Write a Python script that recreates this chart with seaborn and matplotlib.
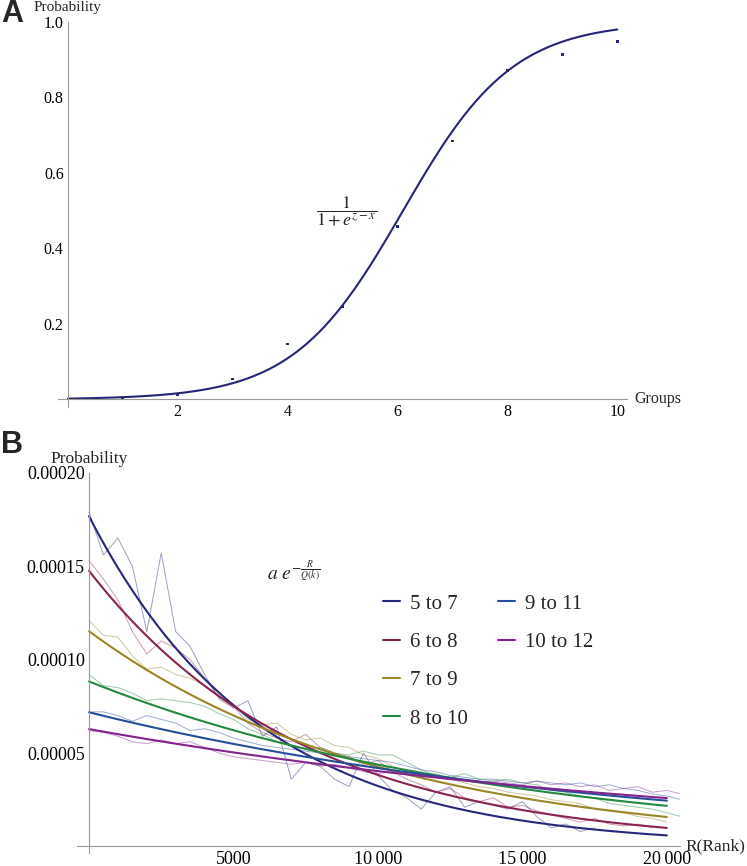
import numpy as np
import pandas as pd
import matplotlib
matplotlib.use('Agg')
import matplotlib.pyplot as plt
from matplotlib.ticker import MultipleLocator, FixedLocator, FixedFormatter
from matplotlib.lines import Line2D
import seaborn as sns

# ---- Painel A: pontos observados e parametro da logistica ajustada ----
grupos = [1, 2, 3, 4, 5, 6, 7, 8, 9, 10]
prob_grupos = [0.003, 0.013, 0.054, 0.147, 0.246, 0.459, 0.685, 0.872, 0.914, 0.949]
z_logistica = 6.1

# ---- Painel B: faixas, parametros dos ajustes a*exp(-R/Q) ----
faixas = ['5 to 7', '6 to 8', '7 to 9', '8 to 10', '9 to 11', '10 to 12']
cores = ['#27277c', '#8a2352', '#9a8624', '#24883e', '#244e98', '#83248c']
amplitude = [17.67e-5, 14.75e-5, 11.52e-5, 8.83e-5, 7.18e-5, 6.28e-5]
escala_q = [5890, 7410, 10060, 14260, 18600, 22560]

# curvas observadas (ruidosas), em unidades de 1e-5, a cada 500 de rank
passo_rank = 500
obs_5_7 = [17.9, 15.6, 16.5, 15.0, 11.5, 15.7, 11.5, 10.7, 9.2, 7.9, 7.4,
           7.8, 5.9, 6.4, 3.6, 4.5, 4.3, 3.6, 3.2, 5.0, 3.8,
           3.0, 2.6, 2.0, 2.9, 3.2, 2.1, 2.4, 2.2, 2.0, 2.4, 1.6,
           1.0, 1.2, 0.8, 1.0]
obs_6_8 = [15.3, 14.3, 13.2, 11.5, 10.3, 11.0, 10.6, 10.0, 9.0, 8.0, 7.5,
           6.6, 6.1, 5.8, 5.6, 6.0, 5.3, 5.0, 4.8, 4.4, 4.6,
           4.0, 3.6, 3.3, 2.9, 3.1, 2.6, 2.4, 2.6, 2.1, 2.2, 1.9,
           1.7, 1.5, 1.3, 1.5, 1.2, 1.1, 1.2, 1.0]
obs_7_9 = [12.1, 11.3, 11.2, 10.2, 9.5, 9.6, 9.2, 9.0, 8.6, 8.0, 7.6,
           6.8, 6.5, 6.6, 6.0, 5.7, 5.8, 5.4, 5.3, 4.9, 4.7,
           4.3, 4.0, 3.8, 3.9, 3.6, 3.4, 3.2, 3.1, 2.9, 2.8, 2.7,
           2.5, 2.4, 2.3, 2.0, 1.9, 1.8, 1.6, 1.5, 1.3]
obs_8_10 = [9.2, 8.6, 8.5, 8.2, 7.8, 7.9, 7.8, 7.7, 7.5, 7.1, 6.8,
            6.3, 6.0, 5.6, 5.4, 5.2, 5.3, 5.0, 4.9, 5.1, 4.9,
            4.9, 4.5, 4.1, 3.8, 3.7, 3.9, 3.6, 3.5, 3.6, 3.4, 3.3,
            3.0, 2.9, 2.7, 2.6, 2.3, 2.2, 2.1, 2.0, 1.8, 1.6]
obs_9_11 = [7.2, 7.2, 7.0, 6.7, 7.0, 6.8, 6.6, 6.2, 6.3, 6.1, 5.8,
            5.6, 5.4, 5.3, 5.2, 5.1, 5.0, 4.9, 4.8, 4.7, 4.6,
            4.5, 4.3, 4.1, 4.0, 3.8, 3.7, 3.6, 3.6, 3.5, 3.4, 3.5,
            3.4, 3.3, 3.4, 3.2, 3.3, 3.1, 3.0, 2.8, 2.7, 2.5]
obs_10_12 = [6.2, 6.1, 5.9, 5.6, 5.5, 5.7, 5.5, 5.6, 5.3, 5.0, 4.8,
             4.7, 4.6, 4.5, 4.4, 4.5, 4.3, 4.4, 4.2, 4.0, 3.9,
             4.0, 3.9, 3.8, 3.7, 3.6, 3.5, 3.4, 3.5, 3.4, 3.3, 3.5,
             3.3, 3.4, 3.2, 3.3, 3.0, 3.1, 3.2, 2.9, 3.0, 2.8]
observados = [obs_5_7, obs_6_8, obs_7_9, obs_8_10, obs_9_11, obs_10_12]

sns.set_theme(style='white')
plt.rcParams['font.family'] = ['Liberation Serif', 'DejaVu Serif']
plt.rcParams['mathtext.fontset'] = 'stix'

cinza = '#9a9a9a'
cor_a = '#25257a'

fig = plt.figure(figsize=(7.47, 8.66), dpi=100)


def estilo_eixos(ax):
    # eixos no estilo Mathematica: cruzam na origem, ticks para dentro
    for lado in ['top', 'right']:
        ax.spines[lado].set_visible(False)
    ax.spines['left'].set_position(('data', 0))
    ax.spines['bottom'].set_position(('data', 0))
    for lado in ['left', 'bottom']:
        ax.spines[lado].set_color(cinza)
        ax.spines[lado].set_linewidth(0.8)
    ax.tick_params(which='both', direction='in', color=cinza, width=0.7)
    ax.tick_params(which='major', length=4)
    ax.tick_params(which='minor', length=2.2)
    ax.tick_params(axis='both', labelcolor='black', pad=3)
    ax.set_facecolor('white')
    ax.grid(False)


# ---------------- Painel A ----------------
axA = fig.add_axes([0.0776, 0.530, 0.762, 0.4446])
x_curva = np.linspace(0, 10, 300)
df_curva = pd.DataFrame({'x': x_curva, 'p': 1 / (1 + np.exp(z_logistica - x_curva))})
sns.lineplot(data=df_curva, x='x', y='p', color=cor_a, lw=1.5, ax=axA)
sns.scatterplot(x=grupos, y=prob_grupos, color=cor_a, s=4, marker='s', edgecolor='none', ax=axA)

axA.set_xlim(-0.18, 10.18)
axA.set_ylim(-0.02, 1.0)
estilo_eixos(axA)
axA.xaxis.set_major_locator(FixedLocator([2, 4, 6, 8, 10]))
axA.xaxis.set_minor_locator(MultipleLocator(0.5))
axA.yaxis.set_major_locator(FixedLocator([0.2, 0.4, 0.6, 0.8, 1.0]))
axA.yaxis.set_major_formatter(FixedFormatter(['0.2', '0.4', '0.6', '0.8', '1.0']))
axA.yaxis.set_minor_locator(MultipleLocator(0.05))
axA.tick_params(labelsize=11.5)
axA.set_xlabel('')
axA.set_ylabel('')
axA.annotate('Probability', xy=(0, 1.0), xytext=(0, 5.5), textcoords='offset points',
             ha='center', va='bottom', fontsize=11, annotation_clip=False)
axA.annotate('Groups', xy=(10.18, 0), xytext=(5, 0), textcoords='offset points',
             ha='left', va='center', fontsize=11.5, annotation_clip=False)
axA.text(5.08, 0.5, r'$\dfrac{1}{1+e^{z-x}}$', ha='center', va='center', fontsize=13)

# ---------------- Painel B ----------------
axB = fig.add_axes([0.1031, 0.015, 0.807, 0.4392])

linhas_obs = []
for faixa, vals in zip(faixas, observados):
    linhas_obs.append(pd.DataFrame({'rank': np.arange(len(vals)) * passo_rank,
                                    'prob': np.array(vals) * 1e-5,
                                    'faixa': faixa}))
df_obs = pd.concat(linhas_obs, ignore_index=True)
paleta = dict(zip(faixas, cores))
sns.lineplot(data=df_obs, x='rank', y='prob', hue='faixa', palette=paleta,
             lw=0.7, alpha=0.45, legend=False, estimator=None, ax=axB)

r_fit = np.linspace(0, 20000, 300)
linhas_fit = []
for faixa, a, q in zip(faixas, amplitude, escala_q):
    linhas_fit.append(pd.DataFrame({'rank': r_fit, 'prob': a * np.exp(-r_fit / q),
                                    'faixa': faixa}))
df_fit = pd.concat(linhas_fit, ignore_index=True)
sns.lineplot(data=df_fit, x='rank', y='prob', hue='faixa', palette=paleta,
             lw=1.5, legend=False, estimator=None, ax=axB)

axB.set_xlim(-415, 20450)
axB.set_ylim(-0.0000035, 0.0002)
estilo_eixos(axB)
axB.xaxis.set_major_locator(FixedLocator([5000, 10000, 15000, 20000]))
axB.xaxis.set_major_formatter(FixedFormatter(['5000', '10\u2009000', '15\u2009000', '20\u2009000']))
axB.xaxis.set_minor_locator(MultipleLocator(1000))
axB.yaxis.set_major_locator(FixedLocator([0.00005, 0.00010, 0.00015, 0.00020]))
axB.yaxis.set_major_formatter(FixedFormatter(['0.00005', '0.00010', '0.00015', '0.00020']))
axB.yaxis.set_minor_locator(MultipleLocator(0.00001))
axB.tick_params(labelsize=13)
axB.set_xlabel('')
axB.set_ylabel('')
axB.annotate('Probability', xy=(0, 0.0002), xytext=(0, 4), textcoords='offset points',
             ha='center', va='bottom', fontsize=12.5, annotation_clip=False)
axB.annotate('R(Rank)', xy=(20450, 0), xytext=(4, 0), textcoords='offset points',
             ha='left', va='center', fontsize=12.5, annotation_clip=False)
axB.text(6160, 0.000147, r'$a\ e^{-\frac{R}{Q(k)}}$', ha='left', va='center', fontsize=14)

# legenda em duas colunas (4 + 2)
alcas = [Line2D([], [], color=c, lw=1.5) for c in cores]
rotulos = list(faixas)
alcas += [Line2D([], [], lw=0, alpha=0), Line2D([], [], lw=0, alpha=0)]
rotulos += ['', '']
axB.legend(handles=alcas, labels=rotulos,
           loc='upper left', bbox_to_anchor=(383 / 747, 1 - 594 / 866), bbox_transform=fig.transFigure,
           ncol=2, frameon=False, fontsize=15, handlelength=0.8, handletextpad=0.5,
           columnspacing=1.45, labelspacing=0.9, borderpad=0, borderaxespad=0)

# rotulos dos paineis
fig.text(0.002, 1 - 14 / 866, 'A', ha='left', va='center', fontsize=22, fontweight='bold',
         family='Liberation Sans')
fig.text(0.002, 1 - 445 / 866, 'B', ha='left', va='center', fontsize=22, fontweight='bold',
         family='Liberation Sans')

fig.savefig('out.png', dpi=100)
